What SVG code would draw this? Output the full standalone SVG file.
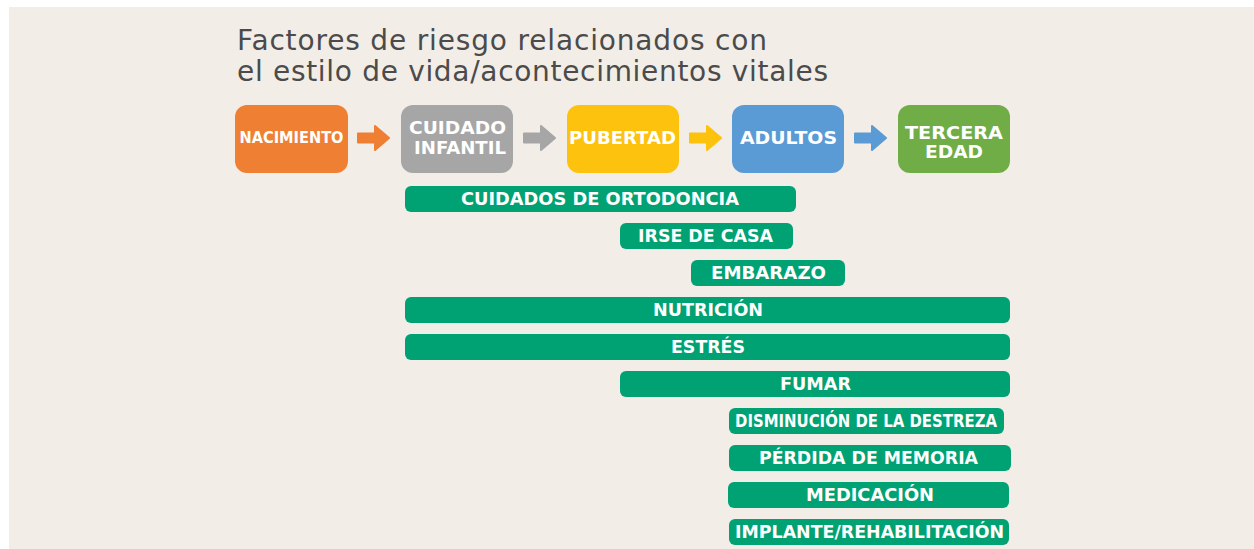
<svg xmlns="http://www.w3.org/2000/svg" xmlns:xlink="http://www.w3.org/1999/xlink" width="1254" height="549" viewBox="0 0 1254 549">
<style>
.title{font-family:"DejaVu Sans","Noto Sans",sans-serif;font-size:28px;fill:#4B4B4B}
.box text{font-family:"DejaVu Sans","Noto Sans",sans-serif;font-weight:700;font-size:17px;fill:#FFFFFF;text-anchor:middle}
.bar rect{fill:#00A273}
.bar text{font-family:"DejaVu Sans","Noto Sans",sans-serif;font-weight:700;font-size:17px;fill:#FFFFFF;text-anchor:middle}
</style>
<defs>
<path id="arr" d="M1,-4.5 H18 V-12 L32,0 L18,12 V4.5 H1 Z" stroke-width="2" stroke-linejoin="round"/>
</defs>
<rect x="0" y="0" width="1254" height="549" fill="#FFFFFF"/>
<rect x="9" y="7" width="1245" height="542" fill="#F2EDE7"/>
<text class="title" x="237" y="50" textLength="530" lengthAdjust="spacing">Factores de riesgo relacionados con</text>
<text class="title" x="237" y="81" textLength="591" lengthAdjust="spacing">el estilo de vida/acontecimientos vitales</text>

<g id="nacimiento" class="box"><rect x="235" y="105" width="113" height="68" rx="12" fill="#EE7F33"/><text x="291.5" y="143" style="font-size:15px" textLength="104" lengthAdjust="spacingAndGlyphs">NACIMIENTO</text></g>
<g id="cuidado-infantil" class="box"><rect x="401" y="105" width="112" height="68" rx="12" fill="#A6A6A6"/><text x="457.5" y="134" textLength="97" lengthAdjust="spacingAndGlyphs">CUIDADO</text><text x="460" y="154" textLength="92" lengthAdjust="spacingAndGlyphs">INFANTIL</text></g>
<g id="pubertad" class="box"><rect x="567" y="105" width="112" height="68" rx="12" fill="#FDC20E"/><text x="622.5" y="144" textLength="107" lengthAdjust="spacingAndGlyphs">PUBERTAD</text></g>
<g id="adultos" class="box"><rect x="732" y="105" width="112" height="68" rx="12" fill="#5B9BD5"/><text x="788.5" y="144" textLength="97" lengthAdjust="spacingAndGlyphs">ADULTOS</text></g>
<g id="tercera-edad" class="box"><rect x="898" y="105" width="112" height="68" rx="12" fill="#70AD47"/><text x="954" y="139" textLength="98" lengthAdjust="spacingAndGlyphs">TERCERA</text><text x="954" y="158" textLength="58" lengthAdjust="spacingAndGlyphs">EDAD</text></g>

<g id="connectors">
<use xlink:href="#arr" href="#arr" transform="translate(357,138)" fill="#EE7F33" stroke="#EE7F33"/>
<use xlink:href="#arr" href="#arr" transform="translate(523,138)" fill="#A6A6A6" stroke="#A6A6A6"/>
<use xlink:href="#arr" href="#arr" transform="translate(689,138)" fill="#FDC20E" stroke="#FDC20E"/>
<use xlink:href="#arr" href="#arr" transform="translate(854,138)" fill="#5B9BD5" stroke="#5B9BD5"/>
</g>

<g id="ortodoncia" class="bar"><rect x="405" y="186" width="391" height="26" rx="6"/><text x="600" y="205" textLength="278" lengthAdjust="spacingAndGlyphs">CUIDADOS DE ORTODONCIA</text></g>
<g id="irse-de-casa" class="bar"><rect x="620" y="223" width="173" height="26" rx="6"/><text x="705.5" y="242" textLength="135" lengthAdjust="spacingAndGlyphs">IRSE DE CASA</text></g>
<g id="embarazo" class="bar"><rect x="691" y="260" width="154" height="26" rx="6"/><text x="768.5" y="279" textLength="115" lengthAdjust="spacingAndGlyphs">EMBARAZO</text></g>
<g id="nutricion" class="bar"><rect x="405" y="297" width="605" height="26" rx="6"/><text x="708" y="316" textLength="110" lengthAdjust="spacingAndGlyphs">NUTRICIÓN</text></g>
<g id="estres" class="bar"><rect x="405" y="334" width="605" height="26" rx="6"/><text x="708" y="353" textLength="74" lengthAdjust="spacingAndGlyphs">ESTRÉS</text></g>
<g id="fumar" class="bar"><rect x="620" y="371" width="390" height="26" rx="6"/><text x="815.5" y="390" textLength="71" lengthAdjust="spacingAndGlyphs">FUMAR</text></g>
<g id="destreza" class="bar"><rect x="729" y="408" width="275" height="26" rx="6"/><text x="866" y="427" textLength="262" lengthAdjust="spacingAndGlyphs">DISMINUCIÓN DE LA DESTREZA</text></g>
<g id="memoria" class="bar"><rect x="729" y="445" width="282" height="26" rx="6"/><text x="868.5" y="464" textLength="219" lengthAdjust="spacingAndGlyphs">PÉRDIDA DE MEMORIA</text></g>
<g id="medicacion" class="bar"><rect x="728" y="482" width="281" height="26" rx="6"/><text x="870" y="501" textLength="128" lengthAdjust="spacingAndGlyphs">MEDICACIÓN</text></g>
<g id="implante" class="bar"><rect x="729" y="519" width="280" height="26" rx="6"/><text x="869.5" y="538" textLength="269" lengthAdjust="spacingAndGlyphs">IMPLANTE/REHABILITACIÓN</text></g>
</svg>
